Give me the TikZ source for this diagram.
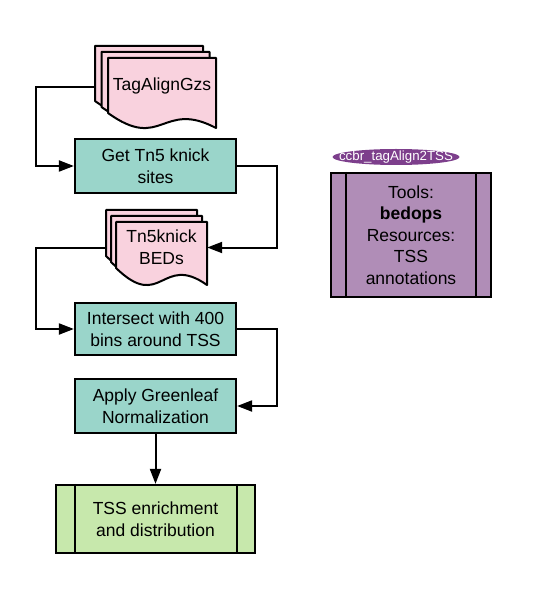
\documentclass[tikz,border=0pt]{standalone}
\usepackage{fontspec}
\setmainfont{Liberation Sans}
\usetikzlibrary{arrows.meta,shapes.geometric}
\definecolor{docpink}{RGB}{249,210,222}
\definecolor{procteal}{RGB}{154,213,202}
\definecolor{outgreen}{RGB}{199,232,172}
\definecolor{toolpurple}{RGB}{176,141,183}
\definecolor{tagpurple}{RGB}{125,63,140}
% #1 x, #2 y (top-left), #3 width, #4 left height, #5 wave amplitude
\newcommand{\docpage}[5]{%
  \draw[docstyle] (#1,#2) -- ({#1+#3},#2) -- ({#1+#3},{#2+#4+#5})
    .. controls ({#1+0.5*#3},{#2+#4-0.9*#5}) and ({#1+0.5*#3},{#2+#4+2.6*#5}) .. (#1,{#2+#4}) -- cycle;}
\tikzset{
  docstyle/.style={fill=docpink, draw=black, line width=2pt, line join=round},
  procbox/.style={draw=black, fill=procteal, line width=2.2pt, minimum width=161pt, inner sep=0pt, align=center},
  outbox/.style={draw=black, fill=outgreen, line width=2.2pt, inner sep=0pt, align=center},
  toolbox/.style={draw=black, fill=toolpurple, line width=2.2pt, inner sep=0pt, align=center},
  ghost/.style={inner sep=0pt, draw=none},
  conn/.style={line width=2pt, -{Triangle[length=15pt,width=11pt]}},
  every node/.style={font=\fontsize{17.5}{21.5}\selectfont}
}
\begin{document}
\begin{tikzpicture}[x=1pt,y=-1pt]
\useasboundingbox (0,0) rectangle (536,601);
\fill[white] (0,0) rectangle (536,601);

% TagAlignGzs stack
\docpage{95}{46}{108}{55}{15}
\docpage{101.5}{52}{108}{55}{15}
\docpage{108}{58}{108}{55}{15}
\node[ghost, minimum width=121pt, minimum height=82pt] (tag) at (155.5,87) {};
\node[ghost] (tagtxt) at (162,86) {TagAlignGzs};

% Tn5knick BEDs stack
\docpage{106}{210}{91}{46}{17}
\docpage{111}{216}{91}{46}{17}
\docpage{116}{222}{91}{46}{17}
\node[ghost, minimum width=101pt, minimum height=75pt] (beds) at (156.5,247.5) {};
\node[ghost, align=center] (bedstxt) at (161.5,247) {Tn5knick\\BEDs};

% process boxes
\node[procbox, minimum height=54pt] (get) at (155.5,166) {Get Tn5 knick\\sites};
\node[procbox, minimum height=52pt] (inter) at (155.5,329) {Intersect with 400\\bins around TSS};
\node[procbox, minimum height=54pt] (norm) at (155.5,406) {Apply Greenleaf\\Normalization};

% output box
\node[outbox, minimum width=199pt, minimum height=68pt] (tss) at (155.5,519) {TSS enrichment\\and distribution};
\draw[line width=2.2pt] ([xshift=20pt]tss.north west) -- ([xshift=20pt]tss.south west);
\draw[line width=2.2pt] ([xshift=-19pt]tss.north east) -- ([xshift=-19pt]tss.south east);

% tool box
\node[toolbox, minimum width=160pt, minimum height=124pt] (tools) at (411,235)
  {Tools:\\\textbf{bedops}\\Resources:\\TSS\\annotations};
\draw[line width=2.2pt] ([xshift=16pt]tools.north west) -- ([xshift=16pt]tools.south west);
\draw[line width=2.2pt] ([xshift=-16pt]tools.north east) -- ([xshift=-16pt]tools.south east);

% module label
\node[ellipse, fill=tagpurple, text=white, minimum width=127pt, minimum height=16pt,
      inner xsep=-14pt, inner ysep=-3pt,
      font=\fontsize{13.3}{15}\selectfont] (lbl) at (396,157) {ccbr\_tagAlign2TSS};

% connectors
\draw[conn] (tag.west) -- ++(-59,0) |- (get.west);
\draw[conn] (get.east) -- ++(39.5,0) |- (beds.east);
\draw[conn] (beds.west) -- ++(-70,0) |- (inter.west);
\draw[conn] (inter.east) -- ++(40,0) |- (norm.east);
\draw[conn] (norm.south) -- (tss.north);
\end{tikzpicture}
\end{document}
